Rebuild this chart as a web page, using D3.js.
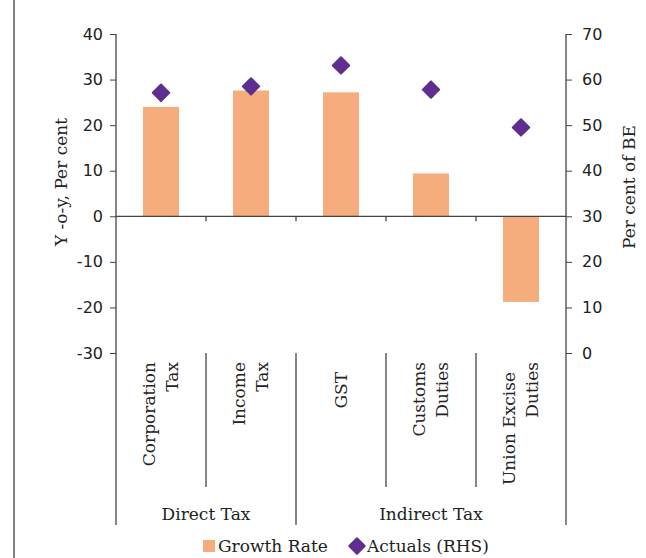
<!DOCTYPE html>
<html>
<head>
<meta charset="utf-8">
<script src="https://cdn.jsdelivr.net/npm/d3@7"></script>
<style>
  html, body { margin: 0; padding: 0; background: #fff; }
  svg { display: block; }
  .serif { font-family: "DejaVu Serif", "Liberation Serif", serif; fill: #222; }
  .tick text { font-family: "DejaVu Sans", sans-serif; font-size: 16px; fill: #222; }
</style>
</head>
<body>
<svg id="chart" width="646" height="558"></svg>
<script>
// Tax heads, each split into the lines shown under the axis
const categories = [
  ["Corporation", "Tax"],
  ["Income", "Tax"],
  ["GST"],
  ["Customs", "Duties"],
  ["Union Excise", "Duties"]
];
// Year-on-year growth (per cent, left axis)
const growthRate = [24.0, 27.6, 27.2, 9.4, -18.8];
// Actual collections as per cent of budget estimate (right axis)
const actualsPctBE = [57.1, 58.5, 63.1, 57.8, 49.5];
// Category groups: label and index range [first, last]
const groups = [
  { name: "Direct Tax", from: 0, to: 1 },
  { name: "Indirect Tax", from: 2, to: 4 }
];
const leftTicks = [-30, -20, -10, 0, 10, 20, 30, 40];
const rightTicks = [0, 10, 20, 30, 40, 50, 60, 70];

const BAR = "#F5AD7D", DIAMOND = "#5E2F91", AXIS = "#444";

const svg = d3.select("#chart");
const plotL = 116, plotR = 566, plotT = 34, plotB = 353, tableB = 525;

const keys = categories.map(c => c.join(" "));
const x = d3.scaleBand().domain(keys).range([plotL, plotR]).padding(0);
const yL = d3.scaleLinear().domain([-30, 40]).range([plotB, plotT]);
const yR = d3.scaleLinear().domain([0, 70]).range([plotB, plotT]);

// page frame line on the left
svg.append("line").attr("x1", 14).attr("x2", 14).attr("y1", 0).attr("y2", 558)
  .attr("stroke", "#555").attr("stroke-width", 1.5);

// bars
const bw = x.bandwidth() * 0.4;
svg.append("g").selectAll("rect").data(growthRate).join("rect")
  .attr("x", (d, i) => x(keys[i]) + x.bandwidth() / 2 - bw / 2)
  .attr("width", bw)
  .attr("y", d => yL(Math.max(0, d)))
  .attr("height", d => Math.abs(yL(d) - yL(0)))
  .attr("fill", BAR);

// axes (plain hyphen for negatives)
const fmt = d => String(d);
const gL = svg.append("g").attr("transform", `translate(${plotL},0)`)
  .call(d3.axisLeft(yL).tickValues(leftTicks).tickFormat(fmt).tickSize(6).tickPadding(7));
const gR = svg.append("g").attr("transform", `translate(${plotR},0)`)
  .call(d3.axisRight(yR).tickValues(rightTicks).tickFormat(fmt).tickSize(6).tickPadding(10));
[gL, gR].forEach(g => {
  g.select(".domain").remove();
  g.selectAll(".tick line").attr("stroke", AXIS);
});

// vertical frame lines of the plot and category table
const vlines = [
  [plotL, plotT, tableB], [plotR, plotT, tableB],
  [x(keys[2]), plotB, tableB],
  [x(keys[1]), plotB, 487], [x(keys[3]), plotB, 487], [x(keys[4]), plotB, 487]
];
svg.append("g").selectAll("line").data(vlines).join("line")
  .attr("x1", d => d[0]).attr("x2", d => d[0])
  .attr("y1", d => d[1]).attr("y2", d => d[2])
  .attr("stroke", AXIS).attr("stroke-width", 1.3);

// zero line with category ticks
const y0 = yL(0);
svg.append("line").attr("x1", plotL).attr("x2", plotR).attr("y1", y0).attr("y2", y0)
  .attr("stroke", AXIS).attr("stroke-width", 1.3);
svg.append("g").selectAll("line").data(keys.slice(1)).join("line")
  .attr("x1", d => x(d)).attr("x2", d => x(d))
  .attr("y1", y0).attr("y2", y0 + 5)
  .attr("stroke", AXIS).attr("stroke-width", 1.3);

// diamonds
const diamond = d3.symbol().type(d3.symbolSquare).size(135);
svg.append("g").selectAll("path").data(actualsPctBE).join("path")
  .attr("d", diamond)
  .attr("transform", (d, i) => `translate(${x(keys[i]) + x.bandwidth() / 2},${yR(d)}) rotate(45)`)
  .attr("fill", DIAMOND).attr("stroke", DIAMOND)
  .attr("stroke-width", 2).attr("stroke-linejoin", "round");

// rotated category labels
const lineGap = 23;
const endInset = { "GST": 10, "Union Excise": 10 };
const catG = svg.append("g").selectAll("g").data(categories).join("g")
  .attr("transform", (d, i) => `translate(${x(keys[i]) + x.bandwidth() / 2},362) rotate(-90)`);
catG.each(function (lines) {
  const g = d3.select(this);
  lines.forEach((ln, j) => {
    g.append("text").attr("class", "serif")
      .attr("text-anchor", "end")
      .attr("font-size", 17)
      .attr("x", -(endInset[ln] || 0))
      .attr("y", 5.5 + (j - (lines.length - 1) / 2) * lineGap)
      .text(ln);
  });
});

// group labels
svg.append("g").selectAll("text").data(groups).join("text")
  .attr("class", "serif").attr("font-size", 17).attr("text-anchor", "middle")
  .attr("x", d => (x(keys[d.from]) + x(keys[d.to]) + x.bandwidth()) / 2)
  .attr("y", 520)
  .text(d => d.name);

// axis titles
svg.append("text").attr("class", "serif").attr("font-size", 17)
  .attr("text-anchor", "middle")
  .attr("transform", "translate(67,182) rotate(-90)")
  .text("Y -o-y, Per cent");
svg.append("text").attr("class", "serif").attr("font-size", 17)
  .attr("text-anchor", "middle")
  .attr("transform", "translate(635,187) rotate(-90)")
  .text("Per cent of BE");

// legend
const lg = svg.append("g");
lg.append("rect").attr("x", 203).attr("y", 540).attr("width", 12).attr("height", 12).attr("fill", BAR);
lg.append("text").attr("class", "serif").attr("font-size", 17).attr("x", 218).attr("y", 552).text("Growth Rate");
lg.append("path").attr("d", d3.symbol().type(d3.symbolSquare).size(120))
  .attr("transform", "translate(357,546) rotate(45)")
  .attr("fill", DIAMOND).attr("stroke", DIAMOND).attr("stroke-width", 2).attr("stroke-linejoin", "round");
lg.append("text").attr("class", "serif").attr("font-size", 17).attr("x", 367).attr("y", 552).text("Actuals (RHS)");
</script>
</body>
</html>
